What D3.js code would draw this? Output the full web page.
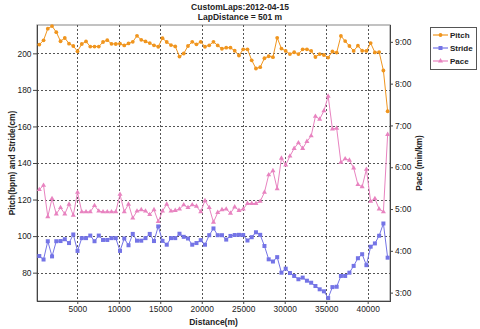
<!DOCTYPE html>
<html><head><meta charset="utf-8">
<script src="https://cdn.jsdelivr.net/npm/d3@7"></script>
<style>
html,body{margin:0;padding:0;background:#fff;}
svg{display:block;font-family:"Liberation Sans",Arial,sans-serif;}
</style></head><body>
<svg id="chart" width="480" height="329"></svg>
<script>
// Lap end distances (m)
const distance = [422, 934, 1446, 1958, 2470, 2982, 3494, 4006, 4518, 5030,
  5542, 6054, 6566, 7078, 7590, 8102, 8614, 9126, 9638, 10150,
  10662, 11174, 11686, 12198, 12710, 13222, 13734, 14246, 14758, 15270,
  15782, 16294, 16806, 17318, 17830, 18342, 18854, 19366, 19878, 20390,
  20902, 21414, 21926, 22438, 22950, 23462, 23974, 24486, 24998, 25510,
  26022, 26534, 27046, 27558, 28070, 28582, 29094, 29606, 30118, 30630,
  31142, 31654, 32166, 32678, 33190, 33702, 34214, 34726, 35238, 35750,
  36262, 36774, 37286, 37798, 38310, 38822, 39334, 39846, 40358, 40870,
  41382, 41894, 42406];

// Cadence per lap (steps/min)
const pitch = [204.8, 207.1, 213.5, 214.9, 211.6, 206.6, 208.4, 205.3, 204.0, 201.1,
  205.1, 206.5, 203.7, 203.7, 203.7, 206.2, 207.2, 205.2, 205.1, 205.3,
  204.3, 205.4, 206.3, 209.6, 207.4, 206.5, 205.6, 204.4, 203.6, 208.3,
  206.2, 204.5, 203.8, 198.2, 199.9, 204.0, 206.3, 204.9, 206.3, 203.6,
  204.4, 206.3, 204.3, 202.5, 203.1, 203.1, 201.4, 198.8, 202.2, 202.2,
  196.2, 191.7, 192.4, 197.3, 198.4, 197.9, 208.5, 202.6, 201.3, 199.6,
  200.6, 199.6, 202.2, 202.2, 201.3, 198.0, 199.6, 199.1, 197.7, 201.0,
  200.4, 209.5, 206.7, 204.0, 201.3, 204.2, 201.4, 201.3, 205.6, 200.5,
  200.7, 190.6, 168.3];

// Stride length per lap (cm)
const stride = [89.1, 87.2, 97.2, 88.9, 97.2, 97.3, 98.3, 96.2, 100.9, 91.9,
  98.9, 98.9, 100.3, 97.2, 100.3, 97.9, 97.9, 98.9, 98.9, 91.9,
  98.7, 95.0, 101.2, 97.5, 97.5, 98.9, 101.2, 97.3, 105.3, 97.4,
  95.3, 98.9, 98.9, 101.3, 99.6, 98.7, 95.3, 96.2, 97.8, 95.3,
  100.5, 104.2, 100.5, 100.5, 98.1, 100.1, 100.6, 100.7, 100.6, 97.6,
  99.4, 102.1, 100.7, 94.6, 87.3, 86.1, 88.5, 80.0, 82.2, 79.8,
  78.2, 76.4, 77.3, 75.6, 74.5, 72.7, 70.9, 69.8, 66.1, 72.1,
  72.3, 78.2, 78.2, 80.0, 83.7, 87.9, 90.1, 84.1, 94.2, 96.0,
  100.2, 106.9, 88.2];

// Pace per lap (seconds per km)
const pace = [328, 334, 289, 315, 293, 302, 293, 307, 291, 324,
  296, 296, 296, 305, 297, 296, 296, 296, 296, 321,
  296, 307, 287, 297, 299, 297, 292, 299, 282, 297,
  307, 297, 298, 300, 306, 302, 306, 304, 296, 312,
  302, 281, 295, 299, 300, 294, 303, 298, 300, 308,
  308, 308, 311, 324, 349, 355, 329, 373, 363, 376,
  387, 395, 387, 397, 405, 433, 429, 441, 462, 415,
  416, 367, 372, 370, 359, 335, 332, 357, 311, 315,
  300, 296, 407];

const distanceTicks = [5000, 10000, 15000, 20000, 25000, 30000, 35000, 40000];
const leftTicks = [80, 100, 120, 140, 160, 180, 200];
const paceTicks = [180, 240, 300, 360, 420, 480, 540];
const seriesNames = ["Pitch", "Stride", "Pace"];
const colors = {Pitch: "#f0951e", Stride: "#7474e6", Pace: "#e883c0"};

const svg = d3.select("#chart");
const plot = {left: 37, right: 390, top: 25, bottom: 301};

const x = d3.scaleLinear().domain([145, 42690]).range([plot.left, plot.right]);
const yL = d3.scaleLinear().domain([64.5, 215.5]).range([plot.bottom, plot.top]);
const yR = d3.scaleLinear().domain([168, 564.2]).range([plot.bottom, plot.top]);

const fmtPace = s => Math.floor(s / 60) + ":" + String(Math.round(s % 60)).padStart(2, "0");

// plot background and outline
svg.append("rect").attr("x", plot.left).attr("y", plot.top)
  .attr("width", plot.right - plot.left).attr("height", plot.bottom - plot.top)
  .attr("fill", "#fff").attr("stroke", "#9a9a9a").attr("stroke-width", 1.2);

// dotted grid
const grid = svg.append("g").attr("stroke", "#555").attr("stroke-width", 1)
  .attr("stroke-dasharray", "2,2");
grid.selectAll("line.v").data(distanceTicks).join("line").attr("class", "v")
  .attr("x1", d => Math.round(x(d)) + 0.5).attr("x2", d => Math.round(x(d)) + 0.5)
  .attr("y1", plot.top).attr("y2", plot.bottom);
grid.selectAll("line.h").data(leftTicks).join("line").attr("class", "h")
  .attr("y1", d => Math.round(yL(d)) + 0.5).attr("y2", d => Math.round(yL(d)) + 0.5)
  .attr("x1", plot.left).attr("x2", plot.right);

// axes
const styleAxis = g => {
  g.select(".domain").remove();
  g.selectAll(".tick line").attr("stroke", "#444");
  g.selectAll(".tick text").attr("fill", "#222").attr("font-size", "8.4px");
};
svg.append("g").attr("transform", `translate(${plot.left},0)`)
  .call(d3.axisLeft(yL).tickValues(leftTicks).tickSize(4).tickPadding(1.5))
  .call(styleAxis);
svg.append("g").attr("transform", `translate(${plot.right},0)`)
  .call(d3.axisRight(yR).tickValues(paceTicks).tickFormat(fmtPace).tickSize(3).tickPadding(2))
  .call(styleAxis);
svg.append("g").attr("transform", `translate(0,${plot.bottom})`)
  .call(d3.axisBottom(x).tickValues(distanceTicks).tickFormat(d3.format("d")).tickSize(3).tickPadding(2.5))
  .call(styleAxis);

// axis lines
const axisLine = svg.append("g").attr("stroke", "#444").attr("stroke-width", 1);
axisLine.append("line").attr("x1", plot.left + 0.5).attr("x2", plot.left + 0.5)
  .attr("y1", plot.top).attr("y2", plot.bottom + 0.5);
axisLine.append("line").attr("x1", plot.right + 0.5).attr("x2", plot.right + 0.5)
  .attr("y1", plot.top).attr("y2", plot.bottom + 0.5);
axisLine.append("line").attr("x1", plot.left).attr("x2", plot.right + 1)
  .attr("y1", plot.bottom + 0.5).attr("y2", plot.bottom + 0.5);

// series
const rows = distance.map((d, i) => ({d, pitch: pitch[i], stride: stride[i], pace: pace[i]}));
const lineOf = (key, scale) => d3.line().x(r => x(r.d)).y(r => scale(r[key]));

const gP = svg.append("g");
gP.append("path").datum(rows).attr("d", lineOf("pace", yR))
  .attr("fill", "none").attr("stroke", colors.Pace).attr("stroke-width", 1);
const tri = d3.symbol(d3.symbolTriangle, 11);
gP.selectAll("path.m").data(rows).join("path").attr("class", "m")
  .attr("d", tri).attr("transform", r => `translate(${x(r.d)},${yR(r.pace)})`)
  .attr("fill", colors.Pace);

const gS = svg.append("g");
gS.append("path").datum(rows).attr("d", lineOf("stride", yL))
  .attr("fill", "none").attr("stroke", colors.Stride).attr("stroke-width", 1);
gS.selectAll("rect").data(rows).join("rect")
  .attr("x", r => x(r.d) - 2).attr("y", r => yL(r.stride) - 2)
  .attr("width", 4).attr("height", 4).attr("fill", colors.Stride);

const gC = svg.append("g");
gC.append("path").datum(rows).attr("d", lineOf("pitch", yL))
  .attr("fill", "none").attr("stroke", colors.Pitch).attr("stroke-width", 1);
gC.selectAll("circle").data(rows).join("circle")
  .attr("cx", r => x(r.d)).attr("cy", r => yL(r.pitch)).attr("r", 1.9)
  .attr("fill", colors.Pitch);

// titles
const txt = (xp, yp, s, opts = {}) => svg.append("text").attr("x", xp).attr("y", yp)
  .attr("text-anchor", opts.anchor || "middle").attr("font-size", opts.size || "8.5px")
  .attr("font-weight", opts.weight || "bold").attr("fill", "#222")
  .attr("transform", opts.rotate ? `rotate(-90,${xp},${yp})` : null).text(s);

txt(240, 9.5, "CustomLaps:2012-04-15");
txt(240, 19.5, "LapDistance = 501 m");
txt((plot.left + plot.right) / 2, 325, "Distance(m)");
txt(15, (plot.top + plot.bottom) / 2, "Pitch(bpm) and Stride(cm)", {rotate: true, size: "8.4px"});
txt(422, (plot.top + plot.bottom) / 2, "Pace (min/km)", {rotate: true, size: "8.2px"});

// legend
const lg = svg.append("g");
lg.append("rect").attr("x", 430.5).attr("y", 27.5).attr("width", 46).attr("height", 42)
  .attr("fill", "#fff").attr("stroke", "#555").attr("stroke-width", 1);
seriesNames.forEach((name, i) => {
  const yy = 35 + i * 13;
  const c = colors[name];
  lg.append("line").attr("x1", 433).attr("x2", 448).attr("y1", yy).attr("y2", yy)
    .attr("stroke", c).attr("stroke-width", 1.2);
  if (name === "Pitch") {
    lg.append("circle").attr("cx", 440.5).attr("cy", yy).attr("r", 1.9).attr("fill", c);
  } else if (name === "Stride") {
    lg.append("rect").attr("x", 438.5).attr("y", yy - 2).attr("width", 4).attr("height", 4).attr("fill", c);
  } else {
    lg.append("path").attr("d", tri).attr("transform", `translate(440.5,${yy})`).attr("fill", c);
  }
  lg.append("text").attr("x", 450).attr("y", yy + 3).attr("font-size", "8px")
    .attr("font-weight", "bold").attr("fill", "#222").text(name);
});
</script>
</body></html>
